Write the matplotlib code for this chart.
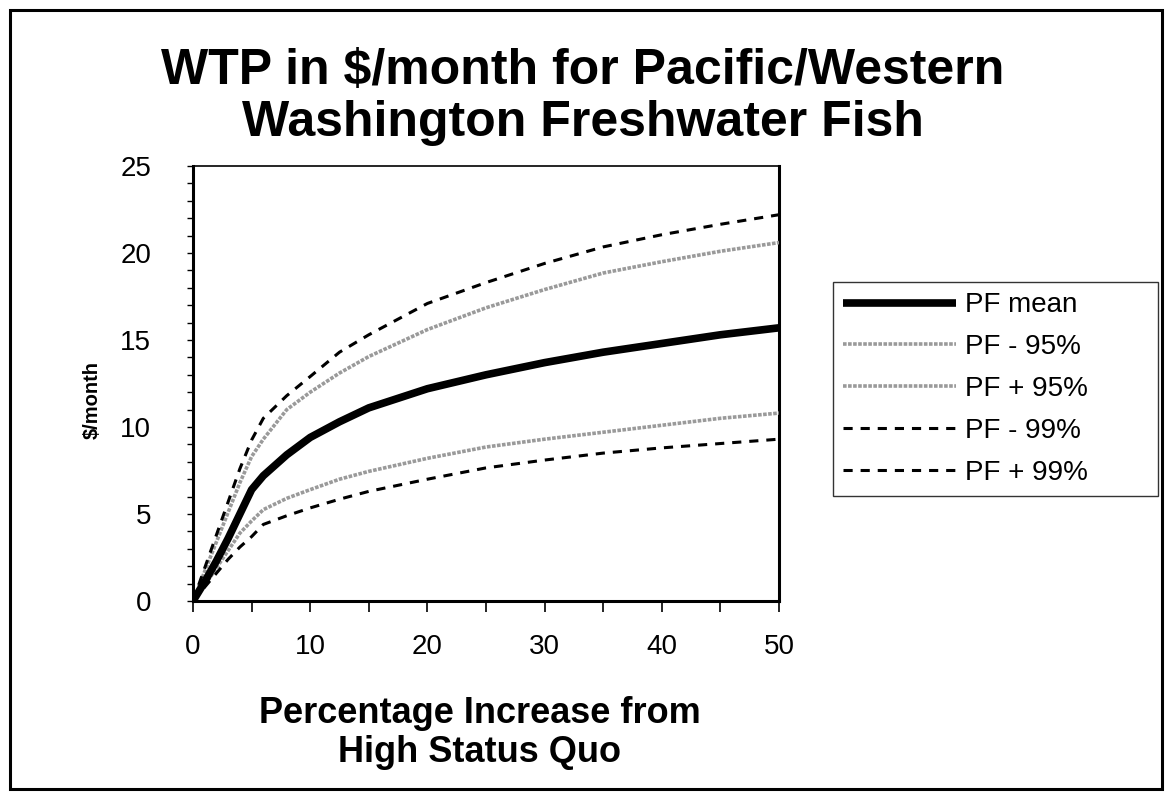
import matplotlib
matplotlib.use("Agg")
import matplotlib.pyplot as plt
from matplotlib.patches import Rectangle
from matplotlib.ticker import MultipleLocator


# =========================
# DADOS
# =========================
pct_aumento = [0, 1, 2, 3, 4, 5, 6, 8, 10, 12.5, 15, 20, 25, 30, 35, 40, 45, 50]

pf_mean = [0, 1.1, 2.3, 3.6, 5.0, 6.4, 7.2, 8.4, 9.4, 10.3, 11.1, 12.2, 13.0, 13.7, 14.3, 14.8, 15.3, 15.7]
pf_menos_95 = [0, 0.9, 1.9, 2.9, 3.9, 4.6, 5.25, 5.9, 6.4, 7.0, 7.45, 8.2, 8.85, 9.3, 9.7, 10.1, 10.5, 10.8]
pf_mais_95 = [0, 1.7, 3.4, 5.1, 6.8, 8.3, 9.3, 11.0, 12.0, 13.1, 14.05, 15.6, 16.85, 17.9, 18.85, 19.5, 20.1, 20.6]
pf_menos_99 = [0, 0.8, 1.6, 2.4, 3.1, 3.7, 4.4, 4.9, 5.35, 5.85, 6.3, 7.0, 7.65, 8.1, 8.5, 8.8, 9.05, 9.3]
pf_mais_99 = [0, 1.9, 3.8, 5.7, 7.6, 9.25, 10.5, 11.8, 12.9, 14.3, 15.3, 17.1, 18.3, 19.4, 20.35, 21.05, 21.65, 22.2]

legendas = ["PF mean", "PF - 95%", "PF + 95%", "PF - 99%", "PF + 99%"]

titulo = "WTP in $/month for Pacific/Western\nWashington Freshwater Fish"
rotulo_x = "Percentage Increase from\nHigh Status Quo"
rotulo_y = "$/month"


# =========================
# FIGURA
# =========================
W, H = 1167, 793
fig = plt.figure(figsize=(W / 100, H / 100), dpi=100)


def fx(px):
    return px / W


def fy(py):
    return 1 - py / H


fonte = ["Liberation Sans", "DejaVu Sans"]

ax = fig.add_axes([fx(193), fy(601), fx(779) - fx(193), fy(166) - fy(601)])

cinza = "#9a9a9a"
ax.plot(pct_aumento, pf_mean, color="black", lw=5.5, solid_capstyle="butt",
        solid_joinstyle="round", label=legendas[0], zorder=5)
ax.plot(pct_aumento, pf_menos_95, color=cinza, lw=2.6, linestyle=(0, (1.0, 0.4)),
        label=legendas[1], zorder=3)
ax.plot(pct_aumento, pf_mais_95, color=cinza, lw=2.6, linestyle=(0, (1.0, 0.4)),
        label=legendas[2], zorder=3)
ax.plot(pct_aumento, pf_menos_99, color="black", lw=2.2, linestyle=(0, (3.0, 2.6)),
        label=legendas[3], zorder=4)
ax.plot(pct_aumento, pf_mais_99, color="black", lw=2.2, linestyle=(0, (3.0, 2.6)),
        label=legendas[4], zorder=4)

ax.set_xlim(0, 50)
ax.set_ylim(0, 25)

ax.xaxis.set_major_locator(MultipleLocator(10))
ax.xaxis.set_minor_locator(MultipleLocator(5))
ax.yaxis.set_major_locator(MultipleLocator(5))
ax.yaxis.set_minor_locator(MultipleLocator(1))

ax.tick_params(axis="x", which="both", direction="out", length=8, width=1.2, pad=16)
ax.tick_params(axis="y", which="both", direction="out", length=4, width=1.0, pad=26)
for lbl in ax.get_xticklabels() + ax.get_yticklabels():
    lbl.set_fontfamily(fonte)
    lbl.set_fontsize(20)

for lado in ["left", "bottom", "right"]:
    ax.spines[lado].set_linewidth(2.2)
ax.spines["top"].set_linewidth(1.2)

# legenda
leg = ax.legend(
    loc="upper left",
    bbox_to_anchor=(fx(833), fy(497), fx(1158) - fx(833), fy(282) - fy(497)),
    bbox_transform=fig.transFigure,
    mode="expand",
    borderaxespad=0,
    frameon=True,
    fancybox=False,
    edgecolor="black",
    prop={"family": fonte, "size": 20},
    handlelength=4.07,
    handletextpad=0.3,
    labelspacing=0.57,
    borderpad=0.37,
)
leg.get_frame().set_linewidth(1.0)

# textos
fig.text(fx(583), fy(97), titulo, ha="center", va="center", fontsize=36,
         fontweight="bold", family=fonte, linespacing=1.15)
fig.text(fx(480), fy(733), rotulo_x, ha="center", va="center", fontsize=26,
         fontweight="bold", family=fonte, linespacing=1.15)
fig.text(fx(92), fy(400), rotulo_y, ha="center", va="center", rotation=90,
         fontsize=14.5, fontweight="bold", family=fonte)

# moldura externa
fig.patches.append(Rectangle((fx(10), fy(789)), fx(1162) - fx(10), fy(10) - fy(789),
                             transform=fig.transFigure, fill=False,
                             edgecolor="black", lw=2.2))

fig.savefig("out.png", dpi=100, facecolor="white")
